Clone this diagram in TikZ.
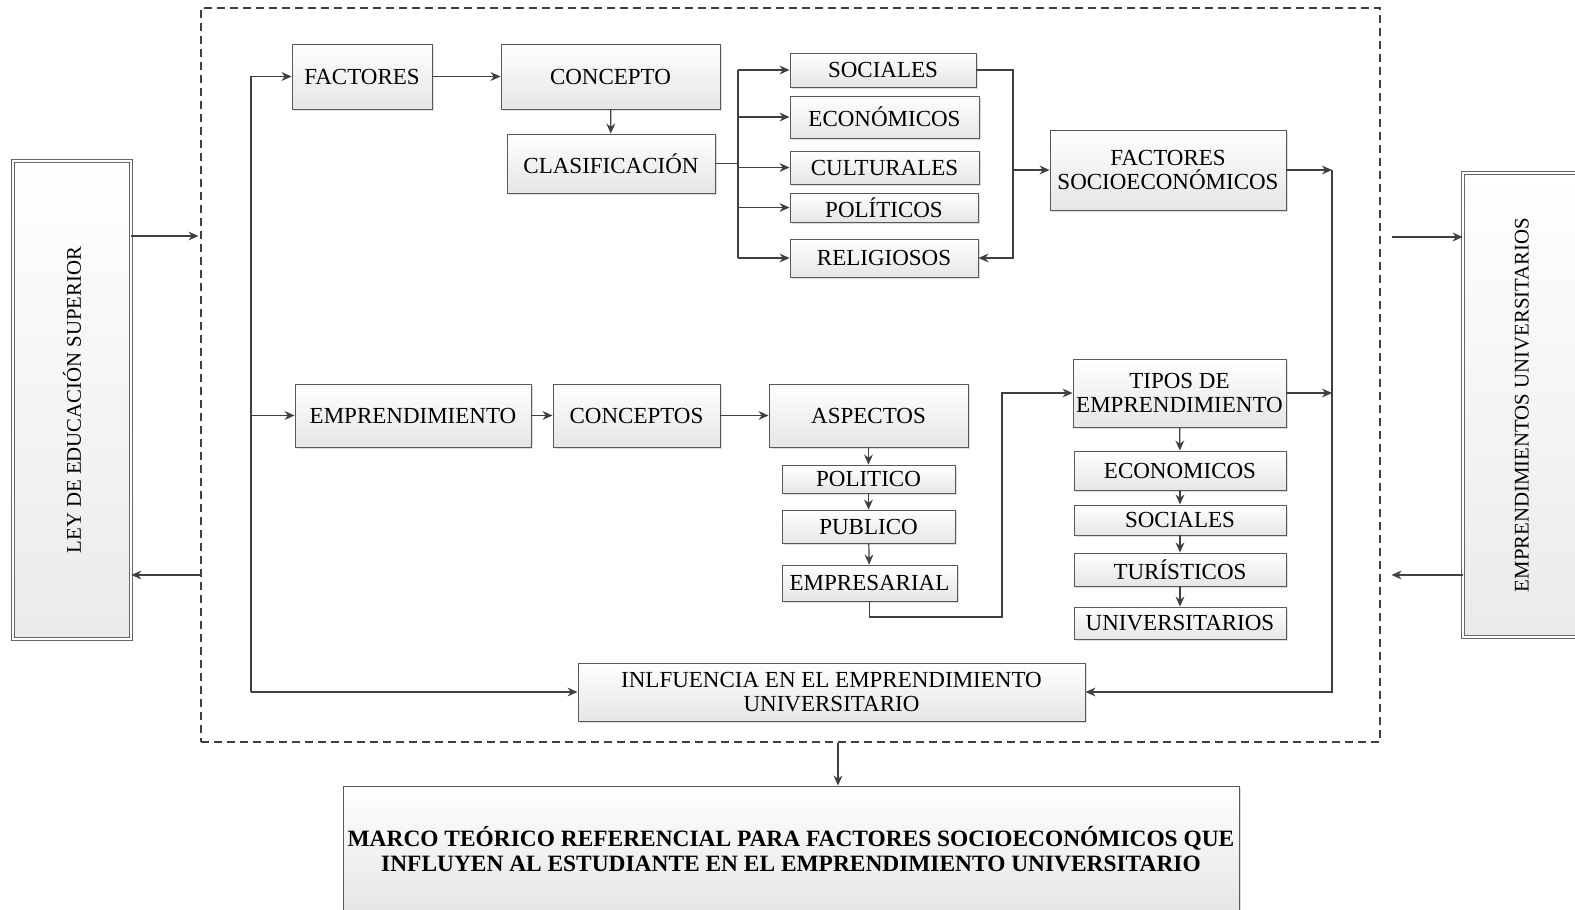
\documentclass[tikz,border=0pt]{standalone}
\usepackage{fontspec}
\setmainfont{Liberation Serif}
\usetikzlibrary{arrows.meta,shadows,calc}
\newcommand\fsmain{\fontsize{11.5}{12.4}\selectfont}
\newcommand\fsvert{\fontsize{10.4}{12}\selectfont}
\newcommand\fsbold{\fontsize{11.7}{12.6}\selectfont\bfseries}
\begin{document}
\begin{tikzpicture}[x=0.5pt,y=-0.5pt,
  conn/.style={draw=black!75,line width=0.6pt},
  arr/.style={conn,-{Stealth[length=5pt,width=4.4pt]}},
  boxnode/.style={draw=black!65,line width=0.45pt,top color=white,bottom color=black!10,
    inner sep=0pt,align=center,font=\fsmain,
    drop shadow={shadow xshift=0.9pt,shadow yshift=-0.9pt,opacity=0.22,fill=black!60}},
  sidebox/.style={draw=black!60,line width=0.4pt,double=white,double distance=1.3pt,
    top color=white,bottom color=black!8,inner sep=0pt,
    drop shadow={shadow xshift=0.9pt,shadow yshift=-0.9pt,opacity=0.2,fill=black!60}},
  framebox/.style={draw=black!75,line width=0.55pt,dash pattern=on 4pt off 2.5pt,inner sep=0pt}
]
\clip (0,0) rectangle (1575,910);
\fill[white] (0,0) rectangle (1575,910);

% frame
\node[framebox,minimum width=589.5pt,minimum height=367pt] (frame) at (790.5,375) {};

% side boxes
\node[sidebox,minimum width=59pt,minimum height=239pt] (ley) at (72,400) {};
\node[rotate=90,font=\fsvert,inner sep=0pt] (leyt) at (ley.center) {LEY DE EDUCACIÓN SUPERIOR};
\node[sidebox,minimum width=59pt,minimum height=232pt] (empu) at (1522,405) {};
\node[rotate=90,font=\fsvert,inner sep=0pt] (empt) at (empu.center) {EMPRENDIMIENTOS UNIVERSITARIOS};

% top branch
\node[boxnode,minimum width=70pt,minimum height=32.5pt] (fac) at (362,76.5) {FACTORES};
\node[boxnode,minimum width=109.5pt,minimum height=32.5pt] (con) at (610.5,76.5) {CONCEPTO};
\node[boxnode,minimum width=104pt,minimum height=29.5pt] (cla) at (611,163.5) {CLASIFICACIÓN};
\node[boxnode,minimum width=93pt,minimum height=17pt] (soc) at (883,70) {SOCIALES};
\node[boxnode,minimum width=94.5pt,minimum height=21pt] (eco) at (884.5,117) {ECONÓMICOS};
\node[boxnode,minimum width=94.5pt,minimum height=16.5pt] (cul) at (884.5,167.5) {CULTURALES};
\node[boxnode,minimum width=94pt,minimum height=14.5pt] (pol) at (884,207.5) {POLÍTICOS};
\node[boxnode,minimum width=94pt,minimum height=19pt] (rel) at (884,258) {RELIGIOSOS};
\node[boxnode,minimum width=118pt,minimum height=40pt] (fse) at (1168,170) {FACTORES\\SOCIOECONÓMICOS};

% middle branch
\node[boxnode,minimum width=118pt,minimum height=31.5pt] (emp) at (413,415.5) {EMPRENDIMIENTO};
\node[boxnode,minimum width=83.5pt,minimum height=31.5pt] (cons) at (636.5,415.5) {CONCEPTOS};
\node[boxnode,minimum width=99.5pt,minimum height=31.5pt] (asp) at (868.5,415.5) {ASPECTOS};
\node[boxnode,minimum width=86.5pt,minimum height=14pt] (poli) at (868.5,479) {POLITICO};
\node[boxnode,minimum width=86.5pt,minimum height=16.5pt] (pub) at (868.5,526.5) {PUBLICO};
\node[boxnode,minimum width=87.5pt,minimum height=18pt] (empr) at (869.5,583) {EMPRESARIAL};
\node[boxnode,minimum width=106.5pt,minimum height=34pt] (tip) at (1179.5,393) {TIPOS DE\\EMPRENDIMIENTO};
\node[boxnode,minimum width=106pt,minimum height=19.5pt] (eco2) at (1180,470.5) {ECONOMICOS};
\node[boxnode,minimum width=106pt,minimum height=15pt] (soc2) at (1180,520) {SOCIALES};
\node[boxnode,minimum width=106pt,minimum height=16.5pt] (tur) at (1180,569.5) {TURÍSTICOS};
\node[boxnode,minimum width=106pt,minimum height=16pt] (uni) at (1180,623) {UNIVERSITARIOS};

\node[boxnode,minimum width=253.5pt,minimum height=29pt] (inf) at (831.5,692) {INLFUENCIA EN EL EMPRENDIMIENTO\\UNIVERSITARIO};

\node[boxnode,minimum width=448pt,minimum height=63pt,font=\fsbold] (marco) at (791,849)
  {MARCO TEÓRICO REFERENCIAL PARA FACTORES SOCIOECONÓMICOS QUE\\INFLUYEN AL ESTUDIANTE EN EL EMPRENDIMIENTO UNIVERSITARIO};

% bus coordinates
\coordinate (lbus) at (251,692);
\coordinate (cbus) at (738,0);
\coordinate (rbus) at (1013,0);
\coordinate (fbus) at (1332,0);
\coordinate (ejog) at (1002,617);
\coordinate (mcol) at (838,0);

% left bus
\draw[arr] (lbus) |- (fac.west);
\draw[arr] (lbus |- emp.west) -- (emp.west);
\draw[arr] (lbus) -- (inf.west);

% top flow
\draw[arr] (fac) -- (con);
\draw[arr] (con) -- (cla);
\draw[conn] (cla.east) -- (cbus |- cla.east);
\draw[conn] (cbus |- soc.west) -- (cbus |- rel.west);
\foreach \n in {soc,eco,cul,pol,rel} \draw[arr] (cbus |- \n.west) -- (\n.west);
\draw[arr] (soc.east) -- (rbus |- soc.east) -- (rbus |- rel.east) -- (rel.east);
\draw[arr] (rbus |- fse.west) -- (fse.west);
\draw[arr] (fse.east) -- (fbus |- fse.east);
\draw[arr] (fbus |- fse.east) -- (fbus |- inf.east) -- (inf.east);
\draw[arr] (tip.east) -- (fbus |- tip.east);

% middle flow
\draw[arr] (emp) -- (cons);
\draw[arr] (cons) -- (asp);
\draw[arr] (asp) -- (poli);
\draw[arr] (poli) -- (pub);
\draw[arr] (pub) -- (empr);
\draw[arr] (empr.south) |- (ejog) |- (tip.west);
\draw[arr] (tip) -- (eco2);
\draw[arr] (eco2) -- (soc2);
\draw[arr] (soc2) -- (tur);
\draw[arr] (tur) -- (uni);

% side arrows
\draw[arr] (ley.east |- 0,236) -- ($(frame.west |- 0,236)+(-2,0)$);
\draw[arr] (frame.west |- 0,575) -- (ley.east |- 0,575);
\draw[arr] ($(frame.east |- 0,237)+(11,0)$) -- (empu.west |- 0,237);
\draw[arr] (empu.west |- 0,575) -- ($(frame.east |- 0,575)+(11,0)$);
\draw[arr] (mcol |- frame.south) -- (mcol |- marco.north);
\end{tikzpicture}
\end{document}
